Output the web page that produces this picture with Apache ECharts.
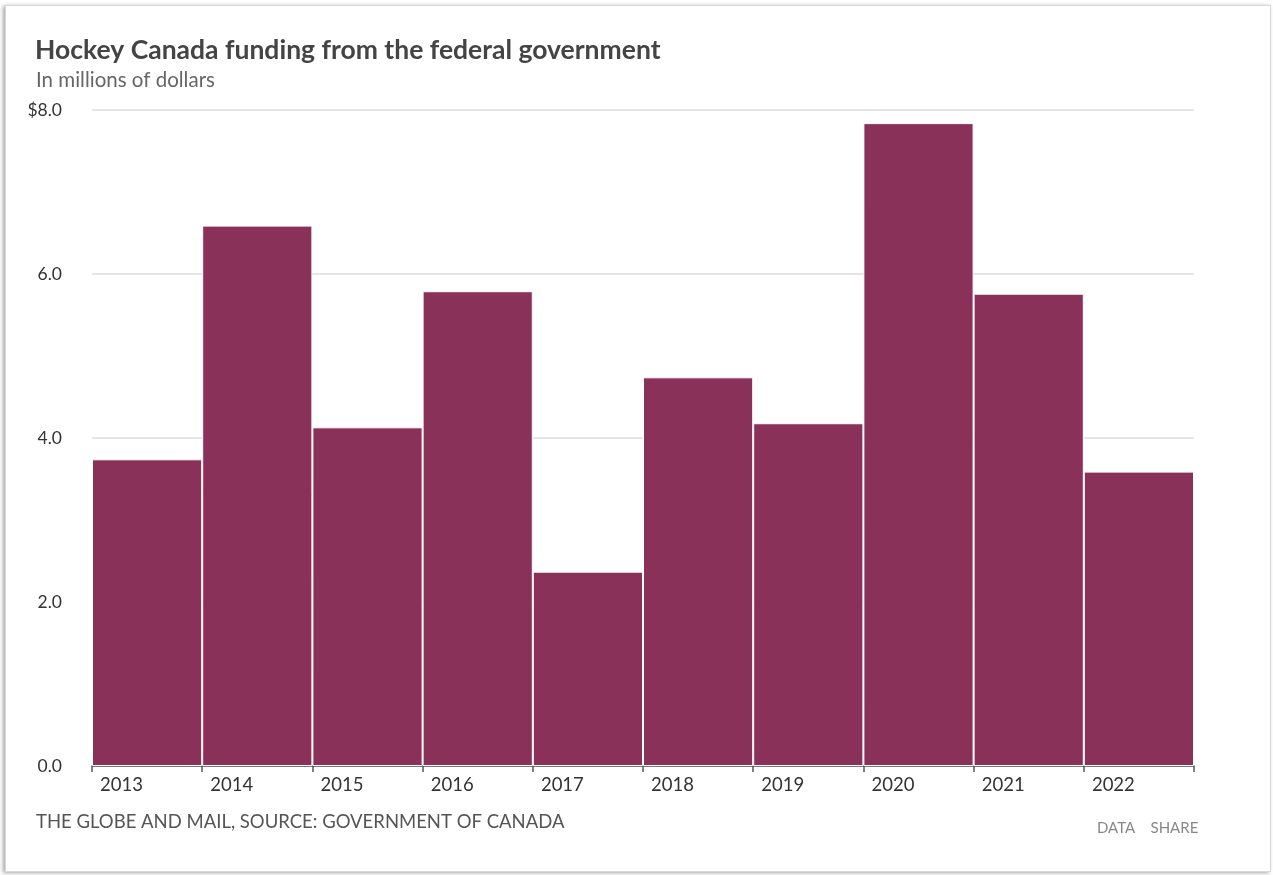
<!DOCTYPE html>
<html>
<head>
<meta charset="utf-8">
<script src="https://cdn.jsdelivr.net/npm/echarts@6/dist/echarts.min.js"></script>
<style>
  html, body { margin: 0; padding: 0; background: #fff; }
  #frame {
    position: absolute; left: 5px; top: 5px; width: 1264px; height: 865px;
    border: 1px solid #d8d8d8; box-shadow: -2px 1px 4px rgba(0,0,0,0.35);
    background: #fff;
  }
  #chart { position: absolute; left: 0; top: 0; width: 1273px; height: 875px; }
</style>
</head>
<body>
<div id="frame"></div>
<div id="chart"></div>
<script>
const years = ["2013", "2014", "2015", "2016", "2017", "2018", "2019", "2020", "2021", "2022"]
const funding = [3.74, 6.59, 4.13, 5.79, 2.37, 4.74, 4.18, 7.84, 5.76, 3.59]
const yTickValues = [0, 2, 4, 6, 8]
const yTickLabels = ["0.0", "2.0", "4.0", "6.0", "$8.0"]

const chart = echarts.init(document.getElementById("chart"))

const font = "Lato, 'Open Sans', sans-serif"

const options = {
  animation: false,
  title: [
    {
      text: "Hockey Canada funding from the federal government",
      left: 30,
      top: 32,
      textStyle: { fontFamily: font, fontSize: 26.5, fontWeight: 700, color: "#444" }
    },
    {
      text: "In millions of dollars",
      left: 31,
      top: 65,
      textStyle: { fontFamily: font, fontSize: 20.5, fontWeight: 400, color: "#666" }
    },
    {
      text: "THE GLOBE AND MAIL, SOURCE: GOVERNMENT OF CANADA",
      left: 31,
      top: 808,
      textStyle: { fontFamily: font, fontSize: 18.5, fontWeight: 400, color: "#555" }
    },
    {
      text: "DATA    SHARE",
      left: 1092,
      top: 816,
      textStyle: { fontFamily: font, fontSize: 15, fontWeight: 400, color: "#888" }
    }
  ],
  grid: {
    left: 92,
    right: 79,
    top: 110,
    bottom: 109
  },
  xAxis: {
    type: "category",
    data: years,
    boundaryGap: true,
    axisLine: { show: true, lineStyle: { color: "#555", width: 1.5 } },
    axisTick: { show: true, length: 6, lineStyle: { color: "#555", width: 1.5 } },
    axisLabel: {
      margin: 10,
      formatter: (v) => "{a|" + v + "}",
      rich: {
        a: { width: 94, align: "left", fontFamily: font, fontSize: 18.5, color: "#333" }
      }
    },
    splitLine: { show: false }
  },
  yAxis: {
    type: "value",
    min: 0,
    max: 8,
    interval: 2,
    axisLine: { show: false },
    axisTick: { show: false },
    axisLabel: {
      margin: 30,
      fontFamily: font,
      fontSize: 17.5,
      color: "#333",
      formatter: (v) => yTickLabels[yTickValues.indexOf(v)]
    },
    splitLine: { show: true, lineStyle: { color: "#dcdcdc", width: 1.5 } }
  },
  series: [
    {
      name: "Funding",
      type: "bar",
      barCategoryGap: 0,
      itemStyle: { color: "#893158", borderColor: "#fff", borderWidth: 1 },
      data: funding
    }
  ]
}

chart.setOption(options)
</script>
</body>
</html>
